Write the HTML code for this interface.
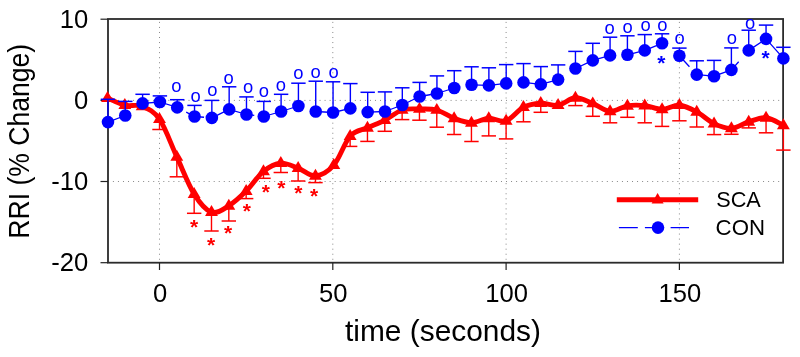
<!DOCTYPE html>
<html><head><meta charset="utf-8"><title>RRI chart</title>
<style>html,body{margin:0;padding:0;background:#fff;overflow:hidden}svg{display:block}text{font-family:"Liberation Sans",sans-serif}</style></head><body>
<svg width="800" height="357" viewBox="0 0 800 357">
<rect width="800" height="357" fill="#fff"/>
<g stroke="#888" stroke-width="1" stroke-dasharray="1 4.04" fill="none">
<line x1="159.5" y1="21.9" x2="159.5" y2="262.7"/>
<line x1="332.8" y1="21.9" x2="332.8" y2="262.7"/>
<line x1="506.1" y1="21.9" x2="506.1" y2="262.7"/>
<line x1="679.4" y1="21.9" x2="679.4" y2="262.7"/>
<line x1="112.9" y1="100.4" x2="783.1" y2="100.4"/>
<line x1="112.9" y1="181.5" x2="783.1" y2="181.5"/>
</g>
<g stroke="#2b2b2b" stroke-width="1.8" fill="none">
<rect x="108.0" y="19.0" width="675.1" height="243.7"/>
</g>
<g stroke="#222" stroke-width="1.2" fill="none">
<line x1="100.5" y1="19.2" x2="108.0" y2="19.2"/>
<line x1="100.5" y1="100.4" x2="108.0" y2="100.4"/>
<line x1="100.5" y1="181.5" x2="108.0" y2="181.5"/>
<line x1="100.5" y1="262.7" x2="108.0" y2="262.7"/>
<line x1="159.5" y1="262.7" x2="159.5" y2="270"/>
<line x1="332.8" y1="262.7" x2="332.8" y2="270"/>
<line x1="506.1" y1="262.7" x2="506.1" y2="270"/>
<line x1="679.4" y1="262.7" x2="679.4" y2="270"/>
</g>
<g font-size="25.6" fill="#000">
<text x="88.2" y="27.9" text-anchor="end">10</text>
<text x="88.2" y="108.9" text-anchor="end">0</text>
<text x="88.2" y="190.1" text-anchor="end">-10</text>
<text x="88.2" y="271.2" text-anchor="end">-20</text>
<text x="160" y="301.9" text-anchor="middle">0</text>
<text x="333.3" y="301.9" text-anchor="middle">50</text>
<text x="506.6" y="301.9" text-anchor="middle">100</text>
<text x="679.9" y="301.9" text-anchor="middle">150</text>
</g>
<text x="443" y="340.7" font-size="28.8" text-anchor="middle" textLength="196" lengthAdjust="spacingAndGlyphs">time (seconds)</text>
<text transform="translate(29.3 141.3) rotate(-90)" font-size="28.6" text-anchor="middle" textLength="194.7" lengthAdjust="spacingAndGlyphs">RRI (% Change)</text>
<g stroke="#ff0000" fill="none">
<path d="M159.5 119.2V129.5" stroke-width="1.4"/><path d="M152.3 129.5H166.7" stroke-width="1.5"/>
<path d="M176.83 156.9V176.8" stroke-width="1.4"/><path d="M169.63 176.8H184.03" stroke-width="1.5"/>
<path d="M194.16 194.1V213.3" stroke-width="1.4"/><path d="M186.96 213.3H201.36" stroke-width="1.5"/>
<path d="M211.49 212.2V231" stroke-width="1.4"/><path d="M204.29 231H218.69" stroke-width="1.5"/>
<path d="M228.82 205.8V221" stroke-width="1.4"/><path d="M221.62 221H236.02" stroke-width="1.5"/>
<path d="M246.15 191.1V198.6" stroke-width="1.4"/><path d="M238.95 198.6H253.35" stroke-width="1.5"/>
<path d="M263.48 171.3V178.3" stroke-width="1.4"/><path d="M256.28 178.3H270.68" stroke-width="1.5"/>
<path d="M280.81 163.2V172.5" stroke-width="1.4"/><path d="M273.61 172.5H288.01" stroke-width="1.5"/>
<path d="M298.14 168.2V181" stroke-width="1.4"/><path d="M290.94 181H305.34" stroke-width="1.5"/>
<path d="M315.47 175.9V182.6" stroke-width="1.4"/><path d="M308.27 182.6H322.67" stroke-width="1.5"/>
<path d="M350.13 136.2V146.4" stroke-width="1.4"/><path d="M342.93 146.4H357.33" stroke-width="1.5"/>
<path d="M367.46 127.8V141.4" stroke-width="1.4"/><path d="M360.26 141.4H374.66" stroke-width="1.5"/>
<path d="M384.79 120.2V131.3" stroke-width="1.4"/><path d="M377.59 131.3H391.99" stroke-width="1.5"/>
<path d="M402.12 110V119.6" stroke-width="1.4"/><path d="M394.92 119.6H409.32" stroke-width="1.5"/>
<path d="M419.45 109V120.2" stroke-width="1.4"/><path d="M412.25 120.2H426.65" stroke-width="1.5"/>
<path d="M436.78 110V127.2" stroke-width="1.4"/><path d="M429.58 127.2H443.98" stroke-width="1.5"/>
<path d="M454.11 118.3V134.5" stroke-width="1.4"/><path d="M446.91 134.5H461.31" stroke-width="1.5"/>
<path d="M471.44 122.8V141.5" stroke-width="1.4"/><path d="M464.24 141.5H478.64" stroke-width="1.5"/>
<path d="M488.77 118.3V135.9" stroke-width="1.4"/><path d="M481.57 135.9H495.97" stroke-width="1.5"/>
<path d="M506.1 120.8V138.9" stroke-width="1.4"/><path d="M498.9 138.9H513.3" stroke-width="1.5"/>
<path d="M523.43 107.2V121.8" stroke-width="1.4"/><path d="M516.23 121.8H530.63" stroke-width="1.5"/>
<path d="M540.76 103.2V112.3" stroke-width="1.4"/><path d="M533.56 112.3H547.96" stroke-width="1.5"/>
<path d="M575.42 97.8V105.6" stroke-width="1.4"/><path d="M568.22 105.6H582.62" stroke-width="1.5"/>
<path d="M592.75 103.5V116.3" stroke-width="1.4"/><path d="M585.55 116.3H599.95" stroke-width="1.5"/>
<path d="M610.08 111.3V122.8" stroke-width="1.4"/><path d="M602.88 122.8H617.28" stroke-width="1.5"/>
<path d="M627.41 105.8V117.3" stroke-width="1.4"/><path d="M620.21 117.3H634.61" stroke-width="1.5"/>
<path d="M644.74 105.6V122.8" stroke-width="1.4"/><path d="M637.54 122.8H651.94" stroke-width="1.5"/>
<path d="M662.07 109.3V126.4" stroke-width="1.4"/><path d="M654.87 126.4H669.27" stroke-width="1.5"/>
<path d="M679.4 105.2V120.8" stroke-width="1.4"/><path d="M672.2 120.8H686.6" stroke-width="1.5"/>
<path d="M696.73 111.9V127" stroke-width="1.4"/><path d="M689.53 127H703.93" stroke-width="1.5"/>
<path d="M714.06 123.6V134.6" stroke-width="1.4"/><path d="M706.86 134.6H721.26" stroke-width="1.5"/>
<path d="M731.39 128.3V134.3" stroke-width="1.4"/><path d="M724.19 134.3H738.59" stroke-width="1.5"/>
<path d="M748.72 121.9V127.9" stroke-width="1.4"/><path d="M741.52 127.9H755.92" stroke-width="1.5"/>
<path d="M766.05 117.8V132.8" stroke-width="1.4"/><path d="M758.85 132.8H773.25" stroke-width="1.5"/>
<path d="M783.38 125.3V150.1" stroke-width="1.4"/><path d="M776.18 150.1H790.58" stroke-width="1.5"/>
<path d="M107.51 98.1C110.4 99.28 119.06 103.82 124.84 105.2C130.62 106.58 136.39 104.07 142.17 106.4C147.95 108.73 153.72 110.78 159.5 119.2C165.28 127.62 171.05 144.42 176.83 156.9C182.61 169.38 188.38 184.88 194.16 194.1C199.94 203.32 205.71 210.25 211.49 212.2C217.27 214.15 223.04 209.32 228.82 205.8C234.6 202.28 240.37 196.85 246.15 191.1C251.93 185.35 257.7 175.95 263.48 171.3C269.26 166.65 275.03 163.72 280.81 163.2C286.59 162.68 292.36 166.08 298.14 168.2C303.92 170.32 309.53 176.4 315.47 175.9C321.41 175.4 328.02 171.82 333.8 165.2C339.58 158.58 344.52 142.43 350.13 136.2C355.74 129.97 361.68 130.47 367.46 127.8C373.24 125.13 379.01 123.17 384.79 120.2C390.57 117.23 396.34 111.87 402.12 110C407.9 108.13 413.67 109 419.45 109C425.23 109 431 108.45 436.78 110C442.56 111.55 448.33 116.17 454.11 118.3C459.89 120.43 465.66 122.8 471.44 122.8C477.22 122.8 482.99 118.63 488.77 118.3C494.55 117.97 500.32 122.65 506.1 120.8C511.88 118.95 517.65 110.13 523.43 107.2C529.21 104.27 534.98 103.53 540.76 103.2C546.54 102.87 552.31 106.1 558.09 105.2C563.87 104.3 569.64 98.08 575.42 97.8C581.2 97.52 586.97 101.25 592.75 103.5C598.53 105.75 604.3 110.92 610.08 111.3C615.86 111.68 621.63 106.75 627.41 105.8C633.19 104.85 638.96 105.02 644.74 105.6C650.52 106.18 656.29 109.37 662.07 109.3C667.85 109.23 673.62 104.77 679.4 105.2C685.18 105.63 690.95 108.83 696.73 111.9C702.51 114.97 708.28 120.87 714.06 123.6C719.84 126.33 725.61 128.58 731.39 128.3C737.17 128.02 742.94 123.65 748.72 121.9C754.5 120.15 760.27 117.23 766.05 117.8C771.83 118.37 780.49 124.05 783.38 125.3" stroke-width="4.9" stroke-linejoin="round" stroke-linecap="butt"/>
</g>
<g fill="#ff0000">
<path d="M107.51 91L113.96 101.95H101.06Z"/>
<path d="M124.84 98.1L131.29 109.05H118.39Z"/>
<path d="M142.17 99.3L148.62 110.25H135.72Z"/>
<path d="M159.5 112.1L165.95 123.05H153.05Z"/>
<path d="M176.83 149.8L183.28 160.75H170.38Z"/>
<path d="M194.16 187L200.61 197.95H187.71Z"/>
<path d="M211.49 205.1L217.94 216.05H205.04Z"/>
<path d="M228.82 198.7L235.27 209.65H222.37Z"/>
<path d="M246.15 184L252.6 194.95H239.7Z"/>
<path d="M263.48 164.2L269.93 175.15H257.03Z"/>
<path d="M280.81 156.1L287.26 167.05H274.36Z"/>
<path d="M298.14 161.1L304.59 172.05H291.69Z"/>
<path d="M315.47 168.8L321.92 179.75H309.02Z"/>
<path d="M333.8 158.1L340.25 169.05H327.35Z"/>
<path d="M350.13 129.1L356.58 140.05H343.68Z"/>
<path d="M367.46 120.7L373.91 131.65H361.01Z"/>
<path d="M384.79 113.1L391.24 124.05H378.34Z"/>
<path d="M402.12 102.9L408.57 113.85H395.67Z"/>
<path d="M419.45 101.9L425.9 112.85H413Z"/>
<path d="M436.78 102.9L443.23 113.85H430.33Z"/>
<path d="M454.11 111.2L460.56 122.15H447.66Z"/>
<path d="M471.44 115.7L477.89 126.65H464.99Z"/>
<path d="M488.77 111.2L495.22 122.15H482.32Z"/>
<path d="M506.1 113.7L512.55 124.65H499.65Z"/>
<path d="M523.43 100.1L529.88 111.05H516.98Z"/>
<path d="M540.76 96.1L547.21 107.05H534.31Z"/>
<path d="M558.09 98.1L564.54 109.05H551.64Z"/>
<path d="M575.42 90.7L581.87 101.65H568.97Z"/>
<path d="M592.75 96.4L599.2 107.35H586.3Z"/>
<path d="M610.08 104.2L616.53 115.15H603.63Z"/>
<path d="M627.41 98.7L633.86 109.65H620.96Z"/>
<path d="M644.74 98.5L651.19 109.45H638.29Z"/>
<path d="M662.07 102.2L668.52 113.15H655.62Z"/>
<path d="M679.4 98.1L685.85 109.05H672.95Z"/>
<path d="M696.73 104.8L703.18 115.75H690.28Z"/>
<path d="M714.06 116.5L720.51 127.45H707.61Z"/>
<path d="M731.39 121.2L737.84 132.15H724.94Z"/>
<path d="M748.72 114.8L755.17 125.75H742.27Z"/>
<path d="M766.05 110.7L772.5 121.65H759.6Z"/>
<path d="M783.38 118.2L789.83 129.15H776.93Z"/>
</g>
<g fill="#ff0000" font-size="21" font-weight="bold" text-anchor="middle">
<text x="194.2" y="234.1">*</text>
<text x="211.2" y="251.9">*</text>
<text x="228.1" y="240.2">*</text>
<text x="246.8" y="217.9">*</text>
<text x="265.9" y="198.9">*</text>
<text x="281.4" y="195">*</text>
<text x="298.3" y="200.25">*</text>
<text x="314.05" y="203.2">*</text>
</g>
<g stroke="#0000ff" fill="none">
<path d="M107.96 122.1V99.3" stroke-width="1.4"/><path d="M100.76 99.3H115.16" stroke-width="1.5"/>
<path d="M125.27 115.5V101.4" stroke-width="1.4"/><path d="M118.07 101.4H132.47" stroke-width="1.5"/>
<path d="M142.59 103.4V94.3" stroke-width="1.4"/><path d="M135.39 94.3H149.79" stroke-width="1.5"/>
<path d="M159.9 102V95.9" stroke-width="1.4"/><path d="M152.7 95.9H167.1" stroke-width="1.5"/>
<path d="M177.22 107.4V99.7" stroke-width="1.4"/><path d="M170.02 99.7H184.42" stroke-width="1.5"/>
<path d="M194.53 116.5V105.4" stroke-width="1.4"/><path d="M187.33 105.4H201.73" stroke-width="1.5"/>
<path d="M211.85 117.9V100.4" stroke-width="1.4"/><path d="M204.65 100.4H219.05" stroke-width="1.5"/>
<path d="M229.16 109.4V86.8" stroke-width="1.4"/><path d="M221.96 86.8H236.36" stroke-width="1.5"/>
<path d="M246.48 114.5V96.9" stroke-width="1.4"/><path d="M239.28 96.9H253.68" stroke-width="1.5"/>
<path d="M263.79 116.5V101.4" stroke-width="1.4"/><path d="M256.59 101.4H270.99" stroke-width="1.5"/>
<path d="M281.1 111.5V94.3" stroke-width="1.4"/><path d="M273.9 94.3H288.3" stroke-width="1.5"/>
<path d="M298.42 106V83.2" stroke-width="1.4"/><path d="M291.22 83.2H305.62" stroke-width="1.5"/>
<path d="M315.73 111.5V81.2" stroke-width="1.4"/><path d="M308.53 81.2H322.93" stroke-width="1.5"/>
<path d="M333.05 112.5V81.8" stroke-width="1.4"/><path d="M325.85 81.8H340.25" stroke-width="1.5"/>
<path d="M350.36 108.4V83.6" stroke-width="1.4"/><path d="M343.16 83.6H357.56" stroke-width="1.5"/>
<path d="M367.68 112.1V92.3" stroke-width="1.4"/><path d="M360.48 92.3H374.88" stroke-width="1.5"/>
<path d="M384.99 111.5V91.9" stroke-width="1.4"/><path d="M377.79 91.9H392.19" stroke-width="1.5"/>
<path d="M402.31 105V87.8" stroke-width="1.4"/><path d="M395.11 87.8H409.51" stroke-width="1.5"/>
<path d="M419.62 96.5V82.4" stroke-width="1.4"/><path d="M412.42 82.4H426.82" stroke-width="1.5"/>
<path d="M436.94 93.5V75.9" stroke-width="1.4"/><path d="M429.74 75.9H444.14" stroke-width="1.5"/>
<path d="M454.25 88V70.7" stroke-width="1.4"/><path d="M447.05 70.7H461.45" stroke-width="1.5"/>
<path d="M471.56 84.8V66.8" stroke-width="1.4"/><path d="M464.36 66.8H478.76" stroke-width="1.5"/>
<path d="M488.88 85.4V67.8" stroke-width="1.4"/><path d="M481.68 67.8H496.08" stroke-width="1.5"/>
<path d="M506.19 83.4V64.6" stroke-width="1.4"/><path d="M498.99 64.6H513.39" stroke-width="1.5"/>
<path d="M523.51 82.4V63.6" stroke-width="1.4"/><path d="M516.31 63.6H530.71" stroke-width="1.5"/>
<path d="M540.82 84.4V66.6" stroke-width="1.4"/><path d="M533.62 66.6H548.02" stroke-width="1.5"/>
<path d="M558.14 79.6V64.9" stroke-width="1.4"/><path d="M550.94 64.9H565.34" stroke-width="1.5"/>
<path d="M575.45 68.5V51.4" stroke-width="1.4"/><path d="M568.25 51.4H582.65" stroke-width="1.5"/>
<path d="M592.77 60.4V43.3" stroke-width="1.4"/><path d="M585.57 43.3H599.97" stroke-width="1.5"/>
<path d="M610.08 55.4V37.2" stroke-width="1.4"/><path d="M602.88 37.2H617.28" stroke-width="1.5"/>
<path d="M627.41 54.8V35.8" stroke-width="1.4"/><path d="M620.21 35.8H634.61" stroke-width="1.5"/>
<path d="M644.74 50.4V34.6" stroke-width="1.4"/><path d="M637.54 34.6H651.94" stroke-width="1.5"/>
<path d="M662.07 43.3V33.8" stroke-width="1.4"/><path d="M654.87 33.8H669.27" stroke-width="1.5"/>
<path d="M679.4 55.8V48.1" stroke-width="1.4"/><path d="M672.2 48.1H686.6" stroke-width="1.5"/>
<path d="M696.73 74.6V60.8" stroke-width="1.4"/><path d="M689.53 60.8H703.93" stroke-width="1.5"/>
<path d="M714.06 76.2V60.4" stroke-width="1.4"/><path d="M706.86 60.4H721.26" stroke-width="1.5"/>
<path d="M731.39 69.9V47.9" stroke-width="1.4"/><path d="M724.19 47.9H738.59" stroke-width="1.5"/>
<path d="M748.72 50.4V30.2" stroke-width="1.4"/><path d="M741.52 30.2H755.92" stroke-width="1.5"/>
<path d="M766.05 38.9V25.1" stroke-width="1.4"/><path d="M758.85 25.1H773.25" stroke-width="1.5"/>
<path d="M783.38 58.4V47.3" stroke-width="1.4"/><path d="M776.18 47.3H790.58" stroke-width="1.5"/>
<path d="M107.96 122.1L125.27 115.5M142.59 103.4L159.9 102M159.9 102L177.22 107.4M186.22 112.13L194.53 116.5M194.53 116.5L204.06 117.27M211.85 117.9L229.16 109.4M229.16 109.4L246.48 114.5M246.48 114.5L254.27 115.4M263.79 116.5L281.1 111.5M281.1 111.5L298.42 106M315.73 111.5L333.05 112.5M333.05 112.5L350.36 108.4M367.68 112.1L384.99 111.5M384.99 111.5L402.31 105M402.31 105L419.62 96.5M419.62 96.5L436.94 93.5M436.94 93.5L454.25 88M471.56 84.8L488.88 85.4M488.88 85.4L506.19 83.4M523.51 82.4L540.82 84.4M540.82 84.4L558.14 79.6M575.45 68.5L592.77 60.4M592.77 60.4L610.08 55.4M627.41 54.8L644.74 50.4M644.74 50.4L662.07 43.3M679.4 55.8L689.45 66.7M696.73 74.6L714.06 76.2M714.06 76.2L731.39 69.9M731.39 69.9L738.67 61.71M748.72 50.4L766.05 38.9M766.05 38.9L783.38 58.4" stroke-width="1.3"/>
</g>
<g fill="#0000ff">
<circle cx="107.96" cy="122.1" r="6.3"/>
<circle cx="125.27" cy="115.5" r="6.3"/>
<circle cx="142.59" cy="103.4" r="6.3"/>
<circle cx="159.9" cy="102" r="6.3"/>
<circle cx="177.22" cy="107.4" r="6.3"/>
<circle cx="194.53" cy="116.5" r="6.3"/>
<circle cx="211.85" cy="117.9" r="6.3"/>
<circle cx="229.16" cy="109.4" r="6.3"/>
<circle cx="246.48" cy="114.5" r="6.3"/>
<circle cx="263.79" cy="116.5" r="6.3"/>
<circle cx="281.1" cy="111.5" r="6.3"/>
<circle cx="298.42" cy="106" r="6.3"/>
<circle cx="315.73" cy="111.5" r="6.3"/>
<circle cx="333.05" cy="112.5" r="6.3"/>
<circle cx="350.36" cy="108.4" r="6.3"/>
<circle cx="367.68" cy="112.1" r="6.3"/>
<circle cx="384.99" cy="111.5" r="6.3"/>
<circle cx="402.31" cy="105" r="6.3"/>
<circle cx="419.62" cy="96.5" r="6.3"/>
<circle cx="436.94" cy="93.5" r="6.3"/>
<circle cx="454.25" cy="88" r="6.3"/>
<circle cx="471.56" cy="84.8" r="6.3"/>
<circle cx="488.88" cy="85.4" r="6.3"/>
<circle cx="506.19" cy="83.4" r="6.3"/>
<circle cx="523.51" cy="82.4" r="6.3"/>
<circle cx="540.82" cy="84.4" r="6.3"/>
<circle cx="558.14" cy="79.6" r="6.3"/>
<circle cx="575.45" cy="68.5" r="6.3"/>
<circle cx="592.77" cy="60.4" r="6.3"/>
<circle cx="610.08" cy="55.4" r="6.3"/>
<circle cx="627.41" cy="54.8" r="6.3"/>
<circle cx="644.74" cy="50.4" r="6.3"/>
<circle cx="662.07" cy="43.3" r="6.3"/>
<circle cx="679.4" cy="55.8" r="6.3"/>
<circle cx="696.73" cy="74.6" r="6.3"/>
<circle cx="714.06" cy="76.2" r="6.3"/>
<circle cx="731.39" cy="69.9" r="6.3"/>
<circle cx="748.72" cy="50.4" r="6.3"/>
<circle cx="766.05" cy="38.9" r="6.3"/>
<circle cx="783.38" cy="58.4" r="6.3"/>
</g>
<g fill="#0000ff" font-size="18.4" text-anchor="middle">
<text x="176.45" y="92.1">o</text>
<text x="195.6" y="101.6">o</text>
<text x="212.4" y="95.9">o</text>
<text x="228.7" y="83.8">o</text>
<text x="248" y="93.1">o</text>
<text x="263.9" y="97.2">o</text>
<text x="280.85" y="90.8">o</text>
<text x="298.45" y="79.1">o</text>
<text x="315.6" y="77.5">o</text>
<text x="333.7" y="77.9">o</text>
<text x="609.5" y="33.9">o</text>
<text x="627.5" y="32.8">o</text>
<text x="645.5" y="31.1">o</text>
<text x="662.3" y="31.1">o</text>
<text x="679.55" y="44">o</text>
<text x="731.9" y="43.7">o</text>
<text x="750.1" y="28.5">o</text>
</g>
<g fill="#0000ff" font-size="21" font-weight="bold" text-anchor="middle">
<text x="661.3" y="69.6">*</text>
<text x="765.6" y="65.3">*</text>
</g>
<path d="M616.8 199.8H698.2" stroke="#ff0000" stroke-width="5" stroke-linecap="butt" fill="none"/>
<path d="M657.6 193L663.6 203.6H651.6Z" fill="#ff0000"/>
<path d="M618.9 227.6H637.8M644.9 227.6H658M670.6 227.6H689" stroke="#0000ff" stroke-width="1.3" fill="none"/>
<circle cx="658" cy="227.6" r="6.3" fill="#0000ff"/>
<g font-size="21.2" fill="#000"><text x="716.2" y="207.3" textLength="44.6" lengthAdjust="spacingAndGlyphs">SCA</text><text x="715.6" y="235.2" textLength="49.4" lengthAdjust="spacingAndGlyphs">CON</text></g>
</svg></body></html>
